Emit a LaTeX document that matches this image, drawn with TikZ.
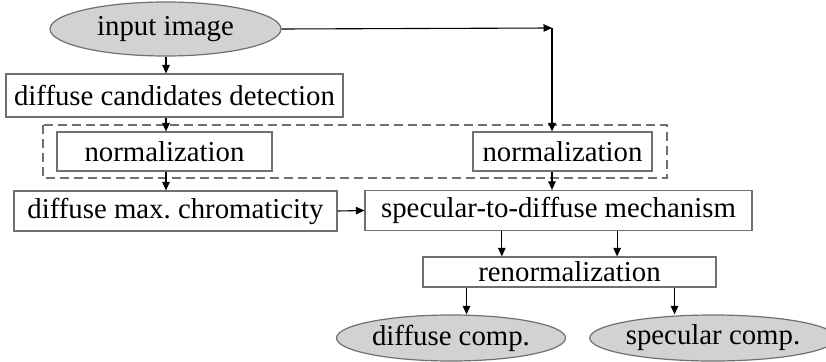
\documentclass[tikz,border=0pt]{standalone}
\usepackage{fontspec}
\setmainfont{Liberation Serif}
\usepackage{tikz}
\usetikzlibrary{shapes.geometric, arrows.meta, positioning, calc}

\definecolor{boxline}{HTML}{707070}
\definecolor{ovalfill}{HTML}{D2D2D2}

\tikzset{
  stage/.style={draw=boxline, line width=1.2pt, rectangle, inner sep=0pt},
  terminal/.style={draw=boxline, fill=ovalfill, line width=1.2pt, ellipse, inner sep=0pt},
  arr/.style={-{Triangle[length=8.5pt, width=7.5pt]}, line width=1.1pt},
}

\begin{document}
\begin{tikzpicture}[x=1pt, y=-1pt, font=\fontsize{28.8}{34}\selectfont]
\useasboundingbox (0,0) rectangle (826,361);

% Group around the two normalizations
\draw[boxline, line width=1.2pt, dash pattern=on 9pt off 5pt] (43,125) rectangle (667,178);

% Nodes
\node[terminal, minimum width=231pt, minimum height=54pt] (input) at (165.5,29) {input image};
\node[stage, minimum width=337pt, minimum height=43pt] (cand) at (174.5,95.5) {diffuse candidates detection};
\node[stage, minimum width=215pt, minimum height=39pt] (normL) at (164.5,151.5) {normalization};
\node[stage, minimum width=179pt, minimum height=39pt] (normR) at (562.5,151.5) {normalization};
\node[stage, minimum width=323pt, minimum height=40pt] (chroma) at (175.5,211) {diffuse max.\ chromaticity};
\node[stage, minimum width=387pt, minimum height=40pt] (mech) at (558.5,210.5) {specular-to-diffuse mechanism};
\node[stage, minimum width=293pt, minimum height=30pt] (renorm) at (569.5,272) {renormalization};
\node[terminal, minimum width=229pt, minimum height=46pt] (diff) at (451,338) {diffuse comp.};
\node[terminal, minimum width=224pt, minimum height=46pt] (spec) at (713,338) {specular comp.};
\coordinate (turn) at (552,28);

% Arrows
\draw[arr] (input.south -| 166,0) -- (cand.north -| 166,0);
\draw[arr] (cand.south -| 166,0) -- (normL.north -| 166,0);
\draw[arr] (normL.south -| 166,0) -- (chroma.north -| 166,0);
\draw[arr] (input.east) -- (turn);
\draw[arr] (turn) -- (normR.north -| turn);
\draw[arr] (normR.south -| turn) -- (mech.north -| turn);
\draw[arr] (chroma.east) -- (mech.west);
\draw[arr] ($(mech.south west)!0.354!(mech.south east)$) coordinate (m1) -- (m1 |- renorm.north);
\draw[arr] ($(mech.south west)!0.651!(mech.south east)$) coordinate (m2) -- (m2 |- renorm.north);
\draw[arr] ($(renorm.south west)!0.150!(renorm.south east)$) coordinate (r1) -- (r1 |- diff.north);
\draw[arr] ($(renorm.south west)!0.857!(renorm.south east)$) coordinate (r2) -- (r2 |- spec.north);
\end{tikzpicture}
\end{document}
